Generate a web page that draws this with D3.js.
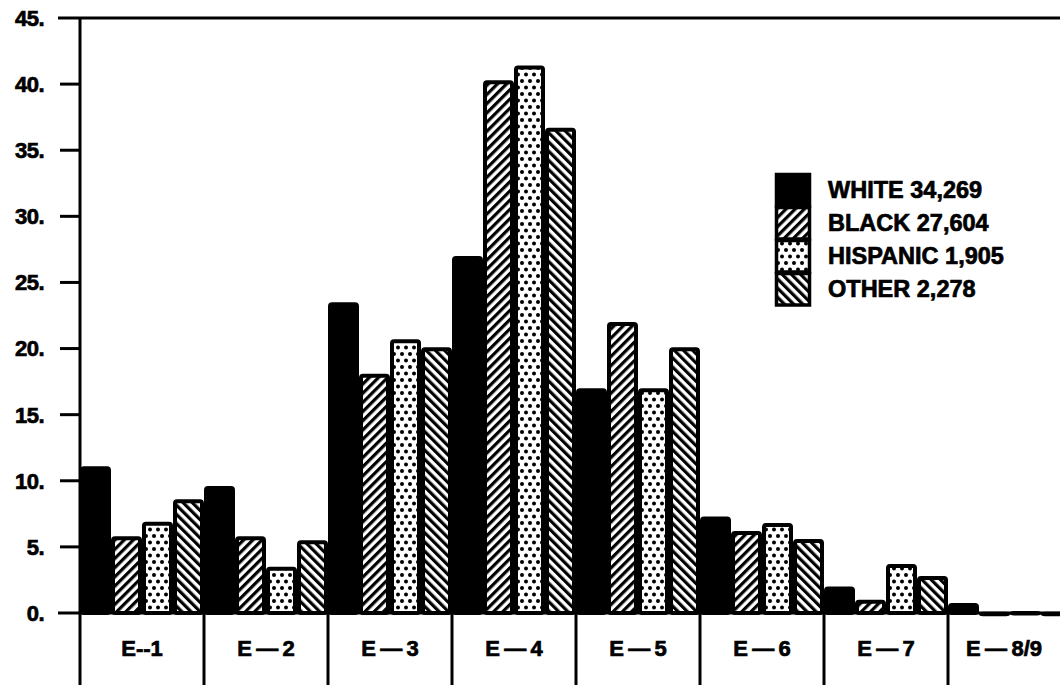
<!DOCTYPE html>
<html>
<head>
<meta charset="utf-8">
<script src="https://cdn.jsdelivr.net/npm/d3@7"></script>
<style>
  html, body { margin: 0; padding: 0; background: #fff; }
  svg { display: block; }
  text { font-family: "Liberation Sans", Arial, sans-serif; font-weight: bold; fill: #000; stroke: #000; stroke-width: 0.7px; }
</style>
</head>
<body>
<svg id="chart" width="1060" height="685"></svg>
<script>
// ---- data ----
const categories = ["E--1", "E\u2009\u2014\u20092", "E\u2009\u2014\u20093", "E\u2009\u2014\u20094", "E\u2009\u2014\u20095", "E\u2009\u2014\u20096", "E\u2009\u2014\u20097", "E\u2009\u2014\u20098/9"];
const seriesNames = ["WHITE", "BLACK", "HISPANIC", "OTHER"];
const seriesTotals = ["34,269", "27,604", "1,905", "2,278"];
const whiteValues    = [11.1, 9.6, 23.5, 27.0, 17.0, 7.3, 2.0, 0.75];
const blackValues    = [5.8, 5.8, 18.1, 40.3, 22.0, 6.2, 1.0, 0.1];
const hispanicValues = [6.9, 3.5, 20.7, 41.4, 17.0, 6.8, 3.7, 0.15];
const otherValues    = [8.6, 5.5, 20.1, 36.7, 20.1, 5.6, 2.8, 0.1];
const yTicks = [0, 5, 10, 15, 20, 25, 30, 35, 40, 45];

const seriesValues = [whiteValues, blackValues, hispanicValues, otherValues];

// ---- layout ----
const svg = d3.select("#chart");
const x0 = 80, bandW = 124;
const x = d3.scaleBand().domain(categories).range([x0, x0 + bandW * categories.length]).padding(0);
const xs = d3.scaleBand().domain(seriesNames).range([0, x.bandwidth()]).padding(0);
const y = d3.scaleLinear().domain([0, 45]).range([613, 18]);

// ---- patterns ----
const defs = svg.append("defs");
const pBlack = defs.append("pattern").attr("id", "pBlack").attr("patternUnits", "userSpaceOnUse")
  .attr("width", 6.5).attr("height", 10).attr("patternTransform", "rotate(45)");
pBlack.append("rect").attr("width", 6.5).attr("height", 10).attr("fill", "#fff");
pBlack.append("rect").attr("width", 3.2).attr("height", 10).attr("fill", "#000");

const pOther = defs.append("pattern").attr("id", "pOther").attr("patternUnits", "userSpaceOnUse")
  .attr("width", 6.5).attr("height", 10).attr("patternTransform", "rotate(-45)");
pOther.append("rect").attr("width", 6.5).attr("height", 10).attr("fill", "#fff");
pOther.append("rect").attr("width", 3.2).attr("height", 10).attr("fill", "#000");

const pHisp = defs.append("pattern").attr("id", "pHisp").attr("patternUnits", "userSpaceOnUse")
  .attr("width", 8).attr("height", 13);
pHisp.append("rect").attr("width", 8).attr("height", 13).attr("fill", "#fff");
pHisp.append("circle").attr("cx", 2).attr("cy", 3).attr("r", 2).attr("fill", "#000");
pHisp.append("circle").attr("cx", 6).attr("cy", 9.5).attr("r", 2).attr("fill", "#000");

const fills = ["#000", "url(#pBlack)", "url(#pHisp)", "url(#pOther)"];

// ---- bars ----
const sw = 4;
const gBars = svg.append("g");
categories.forEach((c, ci) => {
  seriesNames.forEach((s, si) => {
    const v = seriesValues[si][ci];
    gBars.append("rect")
      .attr("x", x(c) + xs(s) + sw / 2)
      .attr("y", y(v) + sw / 2)
      .attr("width", xs.bandwidth() - sw)
      .attr("height", Math.max(0.5, y(0) - y(v) - sw / 2))
      .attr("rx", 2)
      .attr("fill", fills[si])
      .attr("stroke", "#000")
      .attr("stroke-width", sw);
  });
});

// ---- axes ----
const axisG = svg.append("g");
axisG.append("line").attr("x1", x0).attr("x2", x0).attr("y1", y(45)).attr("y2", 685)
  .attr("stroke", "#000").attr("stroke-width", 3);
yTicks.forEach(t => {
  const full = (t === 0 || t === 45);
  axisG.append("line")
    .attr("x1", full ? 58 : 60).attr("x2", full ? 1060 : x0)
    .attr("y1", y(t)).attr("y2", y(t))
    .attr("stroke", "#000").attr("stroke-width", 3);
  axisG.append("text")
    .attr("x", 44).attr("y", y(t)).attr("dy", "0.36em")
    .attr("text-anchor", "end").attr("font-size", 22)
    .attr("letter-spacing", -0.5)
    .text(t + ".");
});
categories.forEach((c, i) => {
  if (i > 0) {
    axisG.append("line").attr("x1", x(c)).attr("x2", x(c)).attr("y1", y(0)).attr("y2", 685)
      .attr("stroke", "#000").attr("stroke-width", 3);
  }
  axisG.append("text")
    .attr("x", x(c) + x.bandwidth() / 2 + (i === 7 ? -6 : 0)).attr("y", 648).attr("dy", "0.36em")
    .attr("text-anchor", "middle").attr("font-size", 22)
    .text(c);
});

// ---- legend ----
const lg = svg.append("g");
const lx = 775, ly = 173, lh = 33, lw = 36;
seriesNames.forEach((s, i) => {
  lg.append("rect").attr("x", lx + 1.5).attr("y", ly + i * lh + 1.5)
    .attr("width", lw - 3).attr("height", lh - 1.5)
    .attr("fill", fills[i]).attr("stroke", "#000").attr("stroke-width", 3.5);
  lg.append("text").attr("x", 828).attr("y", ly + i * lh + 17).attr("dy", "0.36em")
    .attr("font-size", 23.5).text(s + " " + seriesTotals[i]);
});
</script>
</body>
</html>
